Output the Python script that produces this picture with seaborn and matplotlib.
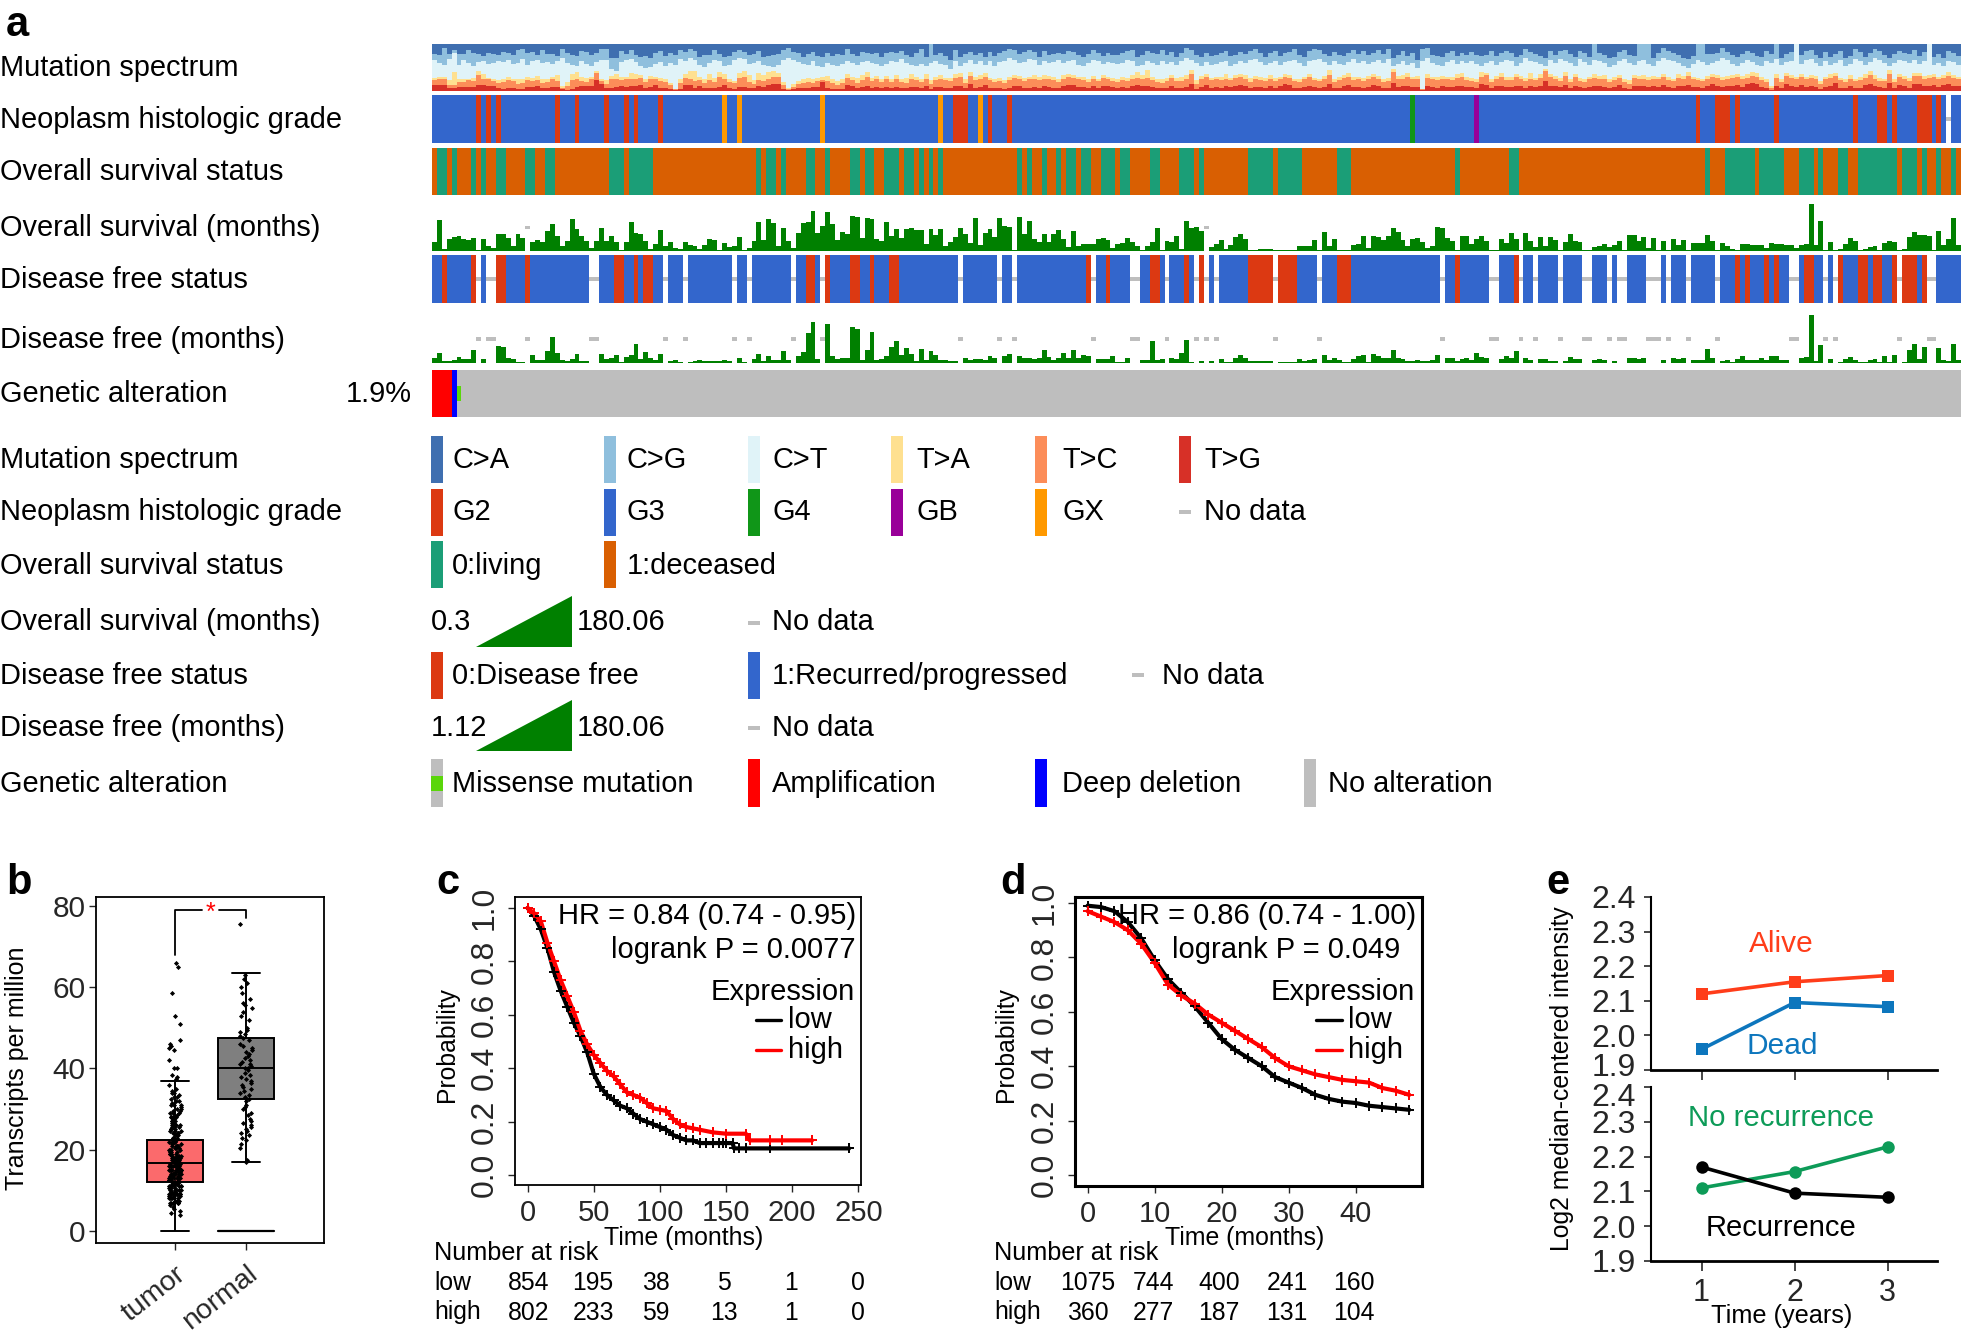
import numpy as np
import pandas as pd
import seaborn as sns
import matplotlib
matplotlib.use("Agg")
import matplotlib.pyplot as plt
from matplotlib.patches import Polygon, Rectangle
from matplotlib.transforms import ScaledTranslation

W, H = 1961, 1332

# ---- panel a: values per sample ----
spectrum_tg = [12,12,12,5,5,8,8,8,8,12, 12,10,10,5,4,5,6,4,4,7, 8,9,5,5,8,8,3,2,4,7, 10,9,9,22,14,5,6,8,9,8,
    10,10,12,6,8,12,5,5,3,1, 4,12,12,6,10,5,6,5,7,12, 5,4,8,8,5,6,9,8,12,14, 14,4,1,4,6,5,5,7,7,18,
    6,3,3,4,12,10,6,8,11,6, 8,5,8,5,7,6,6,7,7,5, 9,3,8,8,6,6,10,10,5,14, 6,8,12,6,5,6,4,6,9,9,
    6,5,8,6,9,8,6,5,10,12, 12,8,7,6,10,5,11,10,7,5, 8,6,9,12,10,9,8,6,5,5, 10,6,5,8,14,4,8,12,6,8,
    6,9,7,10,12,10,5,8,8,5, 10,6,9,14,12,6,5,8,11,7, 6,8,14,5,6,10,12,7,8,5, 8,12,9,5,6,16,7,9,10,8,
    8,1,10,8,6,9,8,8,9,10, 8,7,5,14,12,6,9,10,8,7, 11,9,6,9,7,10,20,11,9,7, 12,6,11,7,5,7,11,9,8,6,
    8,12,5,4,11,10,9,7,9,8, 12,8,6,11,9,12,7,7,5,10, 14,11,7,9,10,12,8,14,16,14, 7,6,2,10,6,14,10,8,13,8,
    11,8,4,8,11,16,6,5,9,6, 6,12,15,10,7,6,17,6,13,9, 6,14,15,10,11,12,8,12,14,10, 9]
spectrum_tc = [22,26,24,12,13,18,18,22,20,34, 26,24,20,16,18,22,20,14,16,22, 20,22,16,18,24,20,6,10,22,24, 20,18,24,38,20,14,24,25,22,24,
    26,26,28,18,26,24,20,18,12,3, 16,28,26,20,22,16,22,18,30,26, 18,16,28,30,18,14,22,20,26,30, 30,12,3,8,14,16,18,16,20,22,
    20,16,12,16,28,22,16,22,30,20, 24,18,24,18,24,18,16,24,22,18, 26,14,22,24,22,20,28,30,16,32, 22,24,30,22,18,20,16,22,28,24,
    20,24,26,22,26,24,22,18,26,30, 28,24,22,18,26,20,28,24,20,18, 22,20,26,28,24,28,22,18,16,20, 28,20,20,26,36,14,24,30,22,24,
    22,26,22,28,30,26,18,24,22,20, 26,20,24,30,28,20,18,24,30,22, 20,26,34,18,22,28,30,22,24,20, 24,30,24,18,20,40,24,26,30,24,
    24,3,28,24,22,26,24,22,28,30, 22,20,18,30,34,18,24,30,22,22, 30,26,20,26,22,28,42,30,26,20, 32,18,30,20,18,24,28,26,26,18,
    22,28,18,14,28,26,24,22,26,24, 30,22,20,28,26,32,24,22,20,26, 30,28,22,24,28,30,26,28,32,30, 22,18,6,28,18,32,28,24,30,24,
    28,26,14,24,28,32,22,18,26,20, 22,28,34,26,20,20,36,18,30,26, 20,32,32,26,28,30,24,28,32,28, 24]
spectrum_ta = [28,30,30,22,40,26,24,26,28,42, 36,28,26,22,26,30,26,24,26,30, 28,32,24,26,30,34,10,18,36,40, 30,28,30,42,26,22,32,36,30,30,
    38,36,34,26,32,30,28,26,16,4, 24,36,42,42,30,26,36,28,40,36, 24,20,38,42,34,22,38,34,40,42, 38,18,6,14,20,24,28,26,28,30,
    32,26,20,26,36,30,28,34,40,28, 32,26,32,26,34,26,28,36,30,26, 36,22,30,34,28,28,36,38,24,40, 30,34,38,28,26,28,22,30,34,32,
    28,30,34,30,34,32,30,26,34,36, 34,30,30,26,32,26,34,30,28,26, 30,28,34,40,34,44,30,26,24,28, 34,28,30,34,44,22,32,36,28,30,
    30,36,28,34,36,34,28,32,30,28, 34,28,30,36,34,26,26,30,36,28, 26,32,44,24,30,34,38,30,30,28, 32,36,32,26,28,46,32,34,38,30,
    32,4,36,30,30,32,30,30,36,38, 30,28,24,40,38,24,32,38,30,30, 36,32,28,38,28,36,46,36,32,28, 40,26,36,28,24,30,36,32,34,26,
    30,34,26,22,34,32,34,30,32,30, 36,30,26,36,32,40,30,28,26,32, 36,34,30,32,34,36,32,36,40,38, 30,26,10,36,24,38,34,30,36,30,
    34,32,20,30,36,38,28,24,34,26, 30,36,42,34,28,26,44,24,36,32, 28,38,38,32,34,36,30,34,40,34, 30]
spectrum_ct = [65,59,55,67,80,55,65,59,53,61, 63,57,59,63,61,65,57,59,67,55, 63,65,59,61,57,63,69,59,55,53, 63,57,53,61,65,65,47,43,61,65,
    67,61,53,49,51,57,61,53,59,55, 67,63,71,65,55,51,59,65,63,53, 55,65,69,67,57,59,63,55,53,51, 55,65,71,65,61,57,55,63,53,51,
    59,55,53,57,63,59,55,61,63,59, 57,53,57,63,61,67,59,55,53,57, 53,59,63,57,55,47,63,53,59,65, 57,63,55,63,53,61,63,69,65,59,
    61,67,65,55,63,59,61,65,59,63, 65,55,53,59,65,63,57,61,59,57, 59,65,63,53,55,63,59,55,63,57, 61,55,63,71,65,59,53,61,55,57,
    61,63,53,57,63,59,65,67,61,55, 59,63,55,61,63,65,59,53,63,65, 67,61,55,63,57,55,61,67,59,63, 57,61,65,59,67,53,57,63,55,59,
    49,63,71,59,55,53,61,65,57,63, 59,63,57,53,59,63,55,61,65,63, 53,59,69,63,61,57,53,65,59,67, 63,59,53,67,61,55,65,63,59,51,
    55,63,67,59,55,63,65,57,53,63, 69,65,63,59,53,49,57,65,61,55, 59,63,69,65,57,53,59,65,61,55, 53,63,59,67,55,61,63,99,57,65,
    67,59,53,63,55,59,65,53,57,67, 63,55,61,69,65,59,53,59,65,63, 59,65,57,63,99,55,59,53,63,61, 55]
spectrum_cg = [79,77,92,79,87,79,79,87,81,79, 75,81,79,77,83,81,77,87,89,81, 82,77,87,79,79,75,89,81,77,75, 85,83,77,81,89,89,69,71,85,79,
    87,77,73,75,69,81,85,75,81,77, 87,83,89,85,73,77,77,87,79,73, 75,83,87,83,77,79,85,73,75,77, 79,87,91,83,81,73,79,83,75,73,
    81,75,79,77,89,79,75,83,81,79, 81,73,81,83,81,85,77,73,81,89, 73,99,77,81,75,65,87,73,79,82, 77,81,73,83,75,81,85,89,87,79,
    83,87,82,73,85,77,79,81,79,85, 83,77,73,79,87,81,75,81,77,77, 81,85,87,73,77,85,81,79,87,77, 83,73,81,92,87,77,73,81,75,77,
    81,85,75,77,83,79,85,89,81,73, 81,85,75,81,83,89,77,73,85,89, 87,79,75,83,77,75,81,87,79,85, 77,81,87,79,89,71,77,85,75,81,
    65,89,92,77,75,73,81,85,75,81, 77,83,77,75,77,85,75,81,85,81, 73,77,89,83,79,75,71,85,77,85, 87,79,73,85,81,73,99,81,77,69,
    73,83,87,77,75,99,99,99,71,81, 92,85,81,77,69,67,75,99,99,79, 79,81,92,83,77,73,79,85,81,75, 73,85,79,99,71,79,83,99,77,85,
    87,77,71,83,73,79,85,71,75,89, 83,73,81,89,85,77,69,79,85,81, 79,87,75,83,99,73,79,71,85,81, 75]

grade_g2 = [9,11,13,25,29,35,39,41,46,106,107,108,113,117,257,261,262,263,265,273,289,294,295,297,302,303,304,306]
grade_gx = [59,62,79,103,111]
grade_g4 = [199]
grade_gb = [212]
grade_missing = [308]

os_living = [1,2,4,8,10,13,14,19,20,23,24,36,37,38,40,41,42,43,44,66,68,69,71,76,77,80,85,86,88,89,92,93,94,96,97,99,101,103,
    119,121,124,127,129,130,132,133,136,137,138,140,141,146,147,152,153,154,156,166,167,168,169,170,172,173,174,175,176,184,185,186,
    208,219,220,259,263,264,265,266,267,268,270,271,272,273,274,278,279,280,282,286,287,290,291,292,293,294,295,296,297,299,300,301,303,306,309]

os_months = [35,116,5,43,52,57,45,42,49,1, 46,17,9,65,63,49,19,64,47,None, 32,42,33,75,103,56,19,37,119,83,
    56,36,9,37,88,37,56,34,4,34, 111,69,63,38,8,24,80,17,32,11, 5,34,20,19,5,23,43,40,3,31,
    15,18,54,1,10,37,111,40,119,106, 19,86,36,11,68,106,110,153,66,93, 146,101,42,70,65,134,129,49,124,119,
    43,38,109,57,83,47,83,86,79,80, 27,82,59,81,17,33,54,87,65,28, 124,22,69,83,51,125,93,89,3,128,
    65,115,43,34,65,33,64,80,45,13, 77,19,26,26,26,46,50,40,11,24, 31,49,33,19,4,18,33,86,3,38,
    32,57,8,115,88,92,75,None,14,24, 40,8,22,52,63,46,4,4,6,6, 5,1,4,4,4,4,17,17,18,42,
    1,71,17,45,4,1,1,20,24,56, 11,55,52,40,57,88,70,40,18,43, 47,32,11,17,89,88,47,37,4,57,
    56,27,43,56,36,1,1,46,29,69, 43,1,66,36,15,52,17,51,42,1, 32,65,37,32,1,1,14,19,27,14,
    20,37,1,59,61,36,52,11,49,1, 38,1,43,20,42,1,29,31,31,61, 36,1,29,18,8,1,27,27,22,22,
    22,11,29,27,27,23,23,11,20,24, 180,20,115,1,34,1,6,27,49,37, 1,8,14,17,3,31,38,32,1,6,
    51,71,61,59,56,3,77,20,43,125, 20]

dfs_recurrence_free = [2,8,13,14,19,37,38,41,43,44,76,77,80,85,86,89,93,94,133,137,146,147,153,156,166,167,168,169,170,172,173,174,175,
    184,185,186,208,220,265,267,271,273,279,280,286,290,291,293,294,297,299,300,301,303]
dfs_missing = [9,11,12,32,33,47,51,61,64,73,79,107,115,118,134,142,143,149,155,157,159,171,180,205,215,216,221,224,229,234,235,239,241,242,
    247,248,249,251,255,261,276,277,283,285,298,304,305]

dfs_months = [18,38,6,6,9,22,15,13,49,None, 13,None,None,65,61,18,14,4,4,None, 29,9,9,43,97,38,9,5,13,32,
    8,6,None,None,33,15,17,28,4,20, 31,70,13,40,18,9,32,None,8,10, 2,None,4,6,9,5,8,8,6,11,
    8,None,19,1,None,13,32,8,26,9, 9,43,9,None,26,40,111,153,15,None, 146,24,15,18,18,134,128,9,50,117,
    9,15,27,59,84,28,55,33,8,51, 9,43,28,9,11,6,6,None,19,11, 15,13,11,26,18,None,24,32,None,26,
    18,18,14,18,50,22,11,19,37,18, 47,19,28,26,None,14,15,15,24,4, 4,18,None,None,9,11,84,11,13,None,
    19,15,37,86,1,None,6,None,8,None, 13,4,4,19,31,18,5,5,8,8, 8,None,4,4,4,4,13,6,9,15,
    None,31,10,17,9,2,1,15,24,28, 4,33,24,17,19,50,18,13,5,5, 11,6,6,9,31,None,19,19,6,13,
    18,9,37,22,19,None,None,15,24,19, 43,None,19,9,None,14,13,6,6,None, 8,22,13,13,None,None,11,15,9,None,
    8,None,None,18,18,13,18,None,None,None, 9,None,17,15,18,None,11,10,9,51, 19,None,6,10,1,14,27,11,9,11,
    19,10,24,24,11,11,None,None,18,23, 180,5,69,None,14,None,1,15,23,11, 2,4,9,14,1,26,1,29,None,2,
    49,70,13,59,None,None,54,9,8,72, 9]

alt_amplification = [0,1,2,3]
alt_deletion = [4]
alt_missense = [5]

# ---- panel b ----
groups = ["tumor", "normal"]
tumor_box = [0, 12, 16.7, 22.5, 37]
normal_box = [17, 32.5, 40, 47.5, 63.5]
tumor_tpm = [66,65,58.5,53,51,47,46,45.5,45,44.5,42,40,40,38.5,38,37.5,36,35,34.5,34,34,33,33,32.5,32,32,31.5,31,31,30.5,30,30,29.5,29,29,29,
    28.5,28,28,28,27.5,27,27,27,26.5,26,26,26,25.5,25.5,25,25,25,24.5,24.5,24,24,24,23.5,23.5,23,23,23,22.5,22.5,22,22,22,21.5,21.5,21,21,21,
    20.5,20.5,20,20,20,19.5,19.5,19,19,19,18.5,18.5,18,18,18,18,17.5,17.5,17,17,17,17,16.5,16.5,16,16,16,16,15.5,15.5,15,15,15,15,14.5,14.5,
    14,14,14,14,13.5,13.5,13,13,13,13,12.5,12.5,12,12,12,11.5,11.5,11,11,11,10.5,10.5,10,10,10,9.5,9.5,9,9,9,8.5,8.5,8,8,8,7.5,7.5,7,7,7,6.5,6,5.5,5,4.5,4,
    33.5,31,29.5,28,26.5,25.5,24.5,23.5,22,21,20.5,20,19,19,18.5,18,18,17.5,17,17,16.5,16,16,15.5,15,15,14.5,14,14,13.5,13,13,12.5,12,12,11.5,11,11,
    10.5,10,10,9.5,9,9,8.5,8,8,7.5,7,7,24,22.5,21,19.5,18,16.5,15,13.5,12,10.5,9,18.5,17.5,16,15,14,13,12,11,10,9,8]
normal_tpm = [75.5,63,62,61,60,58.5,57,56,55.5,55,54,53,52,50,49.5,49,48.5,48,47.5,47,46,45.5,45,44.5,44,43.5,43,42.5,42,41.5,41,41,40.5,40,40,
    39.5,39,38.5,38,37.5,37,36.5,36,35.5,35,34.5,34,33.5,33,32.5,32,31,30.5,30,29,28.5,27.5,27,26.5,26,25.5,25,24.5,24,23.5,23,22.5,21.5,20.5,17.5,17]

# ---- panel c ----
c_low_t = [0,5,10,15,20,25,30,35,40,45,50,55,60,65,70,75,80,85,90,95,100,105,110,115,120,125,130,150,155,156,243]
c_low_p = [1.0,.97,.92,.85,.76,.69,.63,.57,.52,.46,.38,.33,.30,.28,.26,.25,.23,.21,.20,.19,.18,.17,.15,.14,.13,.13,.12,.12,.12,.10,.10]
c_high_t = [0,5,10,15,20,25,30,35,40,45,50,55,60,65,70,75,80,85,90,95,100,105,110,115,120,125,130,140,150,165,168,215]
c_high_p = [1.0,.98,.95,.87,.80,.73,.67,.61,.54,.49,.45,.42,.39,.37,.34,.31,.30,.29,.27,.25,.245,.24,.21,.19,.18,.175,.17,.16,.155,.155,.13,.13]
c_low_cens_t = [135,140,145,148,160,165,183,243]
c_low_cens_p = [.12,.12,.12,.12,.10,.10,.10,.10]
c_high_cens_t = [105,110,125,130,140,150,165,183,192,215]
c_high_cens_p = [.24,.21,.175,.17,.16,.155,.155,.13,.13,.13]
c_risk_low = ["854", "195", "38", "5", "1", "0"]
c_risk_high = ["802", "233", "59", "13", "1", "0"]

# ---- panel d ----
d_t = [0,2,4,6,8,10,12,14,16,18,20,22,24,26,28,30,32,34,36,38,40,42,44,46,48]
d_low_p = [.99,.985,.97,.93,.87,.79,.72,.67,.62,.56,.50,.46,.43,.40,.36,.34,.32,.295,.28,.27,.265,.255,.25,.245,.24]
d_high_p = [.97,.95,.93,.90,.85,.78,.70,.66,.63,.59,.56,.53,.50,.47,.43,.40,.385,.37,.36,.35,.345,.34,.32,.31,.295]
d_risk_low = ["1075", "744", "400", "241", "160"]
d_risk_high = ["360", "277", "187", "131", "104"]

# ---- panel e ----
years = [1, 2, 3]
alive = [2.12, 2.155, 2.173]
dead = [1.96, 2.095, 2.083]
no_recurrence = [2.11, 2.157, 2.228]
recurrence = [2.17, 2.095, 2.083]

# ---- colours ----
GREEN = "#008000"
GREY = "#bebebe"
BLUE = "#3366cc"
RED = "#dc3912"
spectrum_colors = {"C>A": "#3f6fb0", "C>G": "#8fbfdd", "C>T": "#e0f3f8", "T>A": "#fee090", "T>C": "#fc8d59", "T>G": "#d73027"}

sns.set_style("white")
plt.rcParams["font.family"] = ["Liberation Sans", "DejaVu Sans"]
plt.rcParams["axes.edgecolor"] = "black"

fig = plt.figure(figsize=(W / 100, H / 100), dpi=100)


def px_axes(left, top, right, bottom):
    return fig.add_axes([left / W, 1 - bottom / H, (right - left) / W, (bottom - top) / H])


def track_axes(top, bottom):
    ax = px_axes(432, top, W, bottom)
    ax.axis("off")
    return ax


def draw_bars(ax, values, color):
    xs = np.arange(len(values))
    sns.barplot(x=xs, y=values, color=color, width=1, native_scale=True, saturation=1,
                linewidth=0, errorbar=None, orient="x", ax=ax)


def draw_categories(ax, labels, palette):
    xs = np.arange(len(labels))
    sns.barplot(x=xs, y=np.ones(len(labels)), hue=labels, palette=palette, dodge=False, width=1,
                native_scale=True, saturation=1, linewidth=0, errorbar=None, orient="x", legend=False, ax=ax)
    ax.set_ylim(0, 1)
    ax.set_xlim(-0.5, 310.5)


N = 311

# spectrum, painted from the top band down
ax = track_axes(44, 90.7)
draw_bars(ax, [100] * N, spectrum_colors["C>A"])
draw_bars(ax, spectrum_cg, spectrum_colors["C>G"])
draw_bars(ax, spectrum_ct, spectrum_colors["C>T"])
draw_bars(ax, spectrum_ta, spectrum_colors["T>A"])
draw_bars(ax, spectrum_tc, spectrum_colors["T>C"])
draw_bars(ax, spectrum_tg, spectrum_colors["T>G"])
ax.set_ylim(0, 100)
ax.set_xlim(-0.5, 310.5)

# grade
grade = ["G3"] * N
for i in grade_g2:
    grade[i] = "G2"
for i in grade_gx:
    grade[i] = "GX"
for i in grade_g4:
    grade[i] = "G4"
for i in grade_gb:
    grade[i] = "GB"
for i in grade_missing:
    grade[i] = "none"
ax = track_axes(95.3, 142.7)
draw_categories(ax, grade, {"G2": RED, "G3": BLUE, "G4": "#109618", "GB": "#990099", "GX": "#ff9900", "none": "white"})
ax.bar(grade_missing, 0.09, bottom=0.455, width=1, color=GREY, linewidth=0)

# overall survival status
status = ["deceased"] * N
for i in os_living:
    status[i] = "living"
ax = track_axes(147.7, 194.7)
draw_categories(ax, status, {"deceased": "#d95f02", "living": "#1b9e77"})


def month_track(top, bottom, values):
    ax = track_axes(top, bottom)
    series = pd.Series(values, dtype=float)
    draw_bars(ax, series.fillna(0).values, GREEN)
    ax.bar(np.flatnonzero(series.isna().values), 15, bottom=81, width=1, color=GREY, linewidth=0)
    ax.set_ylim(0, 180)
    ax.set_xlim(-0.5, 310.5)


month_track(203.5, 250.7, os_months)

# disease free status
dfs = ["recurred"] * N
for i in dfs_recurrence_free:
    dfs[i] = "free"
for i in dfs_missing:
    dfs[i] = "none"
ax = track_axes(255.3, 302.7)
draw_categories(ax, dfs, {"recurred": BLUE, "free": RED, "none": "white"})
ax.bar(dfs_missing, 0.09, bottom=0.455, width=1, color=GREY, linewidth=0)

month_track(315.3, 362.7, dfs_months)

# genetic alteration
alteration = ["none"] * N
for i in alt_amplification:
    alteration[i] = "amp"
for i in alt_deletion:
    alteration[i] = "del"
ax = track_axes(370, 417)
draw_categories(ax, alteration, {"none": GREY, "amp": "#ff0000", "del": "#0000ff"})
ax.bar(alt_missense, 1 / 3, bottom=1 / 3, width=1, color="#5ad60a", linewidth=0)

# overlay in pixel coordinates for labels and legend
ov = fig.add_axes([0, 0, 1, 1], zorder=10)
ov.set_xlim(0, W)
ov.set_ylim(H, 0)
ov.axis("off")
ov.patch.set_alpha(0)


def label(x, y, s, size=20.9, ha="left", color="black", **kw):
    ov.text(x, y + 2.5, s, fontsize=size, ha=ha, va="center", color=color, **kw)


def swatch(x, top, bottom, color, width=12):
    ov.add_patch(Rectangle((x, top), width, bottom - top, facecolor=color, edgecolor="none"))


left_labels = ["Mutation spectrum", "Neoplasm histologic grade", "Overall survival status", "Overall survival (months)",
               "Disease free status", "Disease free (months)", "Genetic alteration"]
for y, s in zip([65, 118, 170, 225, 278, 338, 391], left_labels):
    label(0, y, s)
label(412, 391, "1.9%", ha="right")
for y, s in zip([458, 510, 563, 620, 673, 725, 782], left_labels):
    label(0, y, s)

for s, x, tx in zip(spectrum_colors, [431, 604, 748, 891, 1035, 1179], [452, 627, 772, 916, 1062, 1204]):
    swatch(x, 436, 483, spectrum_colors[s])
    label(tx, 458, s)

grade_legend = [("G2", RED, 431, 452), ("G3", BLUE, 604, 627), ("G4", "#109618", 748, 772), ("GB", "#990099", 891, 916), ("GX", "#ff9900", 1035, 1062)]
for s, c, x, tx in grade_legend:
    swatch(x, 489, 536, c)
    label(tx, 510, s)
swatch(1179, 510, 514, GREY)
label(1204, 510, "No data")

swatch(431, 541, 588, "#1b9e77")
label(452, 563, "0:living")
swatch(604, 541, 588, "#d95f02")
label(627, 563, "1:deceased")

for top, bottom, low_s, low_y in [(596, 647, "0.3", 620), (700, 751, "1.12", 725)]:
    ov.add_patch(Polygon([(476, bottom), (572, bottom), (572, top)], facecolor=GREEN, edgecolor="none"))
    label(431, low_y, low_s)
    label(577, low_y, "180.06")
    swatch(748, low_y + 1, low_y + 5, GREY)
    label(772, low_y, "No data")

swatch(431, 652, 699, RED)
label(452, 673, "0:Disease free")
swatch(748, 652, 699, BLUE)
label(772, 673, "1:Recurred/progressed")
swatch(1132, 673, 677, GREY)
label(1162, 673, "No data")

swatch(431, 759, 807, GREY)
swatch(431, 776, 791, "#5ad60a")
label(452, 782, "Missense mutation")
swatch(748, 759, 807, "#ff0000")
label(772, 782, "Amplification")
swatch(1035, 759, 807, "#0000ff")
label(1062, 782, "Deep deletion")
swatch(1304, 759, 807, GREY)
label(1328, 782, "No alteration")

for x, y, s in [(6, 22, "a"), (6, 880, "b"), (436, 880, "c"), (1000, 880, "d"), (1546, 880, "e")]:
    label(x, y, s, size=30, fontweight="bold")

# ---- panel b ----
ax = px_axes(96.4, 897, 324, 1243)
box_df = pd.DataFrame({"group": ["tumor"] * 5 + ["normal"] * 5, "tpm": tumor_box + normal_box})
sns.boxplot(data=box_df, x="group", y="tpm", hue="group", order=groups, palette={"tumor": "#fb6a6c", "normal": "#7f7f7f"},
            whis=(0, 100), width=0.8, showfliers=False, saturation=1, linecolor="black", linewidth=1.4, dodge=False, legend=False, ax=ax)
strip_df = pd.DataFrame({"group": ["tumor"] * len(tumor_tpm) + ["normal"] * len(normal_tpm), "tpm": tumor_tpm + normal_tpm})
np.random.seed(3)
sns.stripplot(data=strip_df, x="group", y="tpm", order=groups, color="black", size=2.6, jitter=0.09, marker="D", ax=ax)
ax.plot([0.6, 1.4], [0, 0], color="black", lw=1.6)
ax.plot([0, 0, 0.38], [68, 79, 79], color="black", lw=1.3)
ax.plot([0.62, 1, 1], [79, 79, 77], color="black", lw=1.3)
ax.text(0.5, 78.2, "*", color="red", fontsize=18, ha="center", va="center")
ax.set_xlim(-1.107, 2.10)
ax.set_ylim(-2.96, 82.2)
ax.set_xlabel("")
ax.set_ylabel("")
ax.set_yticks([0, 20, 40, 60, 80])
ax.set_xticks([0, 1], groups, rotation=38, ha="right", rotation_mode="anchor")
ax.tick_params(axis="y", labelsize=21.5, length=5, width=1, pad=3, left=True)
ax.tick_params(axis="x", labelsize=20.5, length=5, width=1, pad=8, bottom=True)
for s in ax.spines.values():
    s.set_linewidth(1.3)
label(17, 1066, "Transcripts per million", size=18, ha="center", rotation=90)


def km_panel(box, xlim, ylim, xticks, low_t, low_p, high_t, high_p, low_c, high_c, spine_w):
    ax = px_axes(*box)
    sns.lineplot(x=low_t, y=low_p, color="black", linewidth=3, estimator=None, sort=False, ax=ax)
    sns.lineplot(x=high_t, y=high_p, color="#ff0000", linewidth=3, estimator=None, sort=False, ax=ax)
    sns.scatterplot(x=low_c[0], y=low_c[1], color="black", marker="+", s=55, linewidth=1.4, ax=ax, zorder=3)
    sns.scatterplot(x=high_c[0], y=high_c[1], color="#ff0000", marker="+", s=55, linewidth=1.4, ax=ax, zorder=3)
    ax.set_xlim(*xlim)
    ax.set_ylim(*ylim)
    ax.set_xticks(xticks)
    ax.set_yticks([0, .2, .4, .6, .8, 1.0], ["0.0", "0.2", "0.4", "0.6", "0.8", "1.0"], rotation=90, va="center")
    ax.tick_params(axis="x", labelsize=21, length=5, width=1, pad=5, bottom=True)
    ax.tick_params(axis="y", labelsize=23, length=5, width=1, pad=6, left=True)
    for s in ax.spines.values():
        s.set_linewidth(spine_w)
    return ax


def km_text(hr, p, hr_x, p_x, expr_x, low_x, line_x, prob_x, time_x, risk_x, columns, risk_low, risk_high):
    label(hr_x, 914, hr, size=21, ha="right")
    label(p_x, 947, p, size=21, ha="right")
    label(expr_x, 990, "Expression", size=21, ha="right")
    label(low_x, 1017, "low", size=21)
    label(low_x, 1047, "high", size=21)
    ov.plot(line_x, [1020, 1020], color="black", lw=2.4)
    ov.plot(line_x, [1050, 1050], color="#ff0000", lw=2.4)
    label(prob_x, 1042, "Probability", size=17.8, ha="center", rotation=90)
    label(time_x, 1236, "Time (months)", size=17.9, ha="center")
    label(risk_x, 1251, "Number at risk", size=18.2)
    label(risk_x, 1281, "low", size=17.8)
    label(risk_x, 1310, "high", size=17.8)
    for x, lo, hi in zip(columns, risk_low, risk_high):
        label(x, 1281, lo, size=17.8, ha="center")
        label(x, 1310, hi, size=17.8, ha="center")


# ---- panel c ----
km_panel((515, 897, 861, 1185), (-9.5, 252), (-0.037, 1.041), [0, 50, 100, 150, 200, 250],
         c_low_t, c_low_p, c_high_t, c_high_p, (c_low_t + c_low_cens_t, c_low_p + c_low_cens_p),
         (c_high_t + c_high_cens_t, c_high_p + c_high_cens_p), 1.3)
km_text("HR = 0.84 (0.74 - 0.95)", "logrank P = 0.0077", 856, 856, 855, 788, [756, 781], 447, 684, 434,
        [529, 593, 656, 724, 791, 858], c_risk_low, c_risk_high)

# ---- panel d ----
km_panel((1075, 897, 1422, 1186), (-1.88, 49.9), (-0.04, 1.022), [0, 10, 20, 30, 40],
         d_t, d_low_p, d_t, d_high_p, (d_t, d_low_p), (d_t, d_high_p), 2.2)
km_text("HR = 0.86 (0.74 - 1.00)", "logrank P = 0.049", 1416, 1400, 1415, 1348, [1316, 1342], 1006, 1245, 994,
        [1088, 1153, 1219, 1287, 1354], d_risk_low, d_risk_high)


# ---- panel e ----
def line_panel(top, bottom, series, marker, show_labels, nudge_index, nudge_px):
    ax = px_axes(1651, top, 1937, bottom)
    for values, color in series:
        sns.lineplot(x=years, y=values, color=color, linewidth=2.6, marker=marker, markersize=9,
                     markeredgewidth=0, errorbar=None, ax=ax)
    ax.set_xlim(0.457, 3.53)
    ax.set_ylim(1.9, 2.4)
    ax.set_yticks([1.9, 2.0, 2.1, 2.2, 2.3, 2.4], ["1.9", "2.0", "2.1", "2.2", "2.3", "2.4"])
    ax.set_xticks(years, [str(y) for y in years] if show_labels else ["", "", ""])
    ax.tick_params(axis="x", labelsize=22, length=7, width=1.2, pad=5, bottom=True)
    ax.tick_params(axis="y", labelsize=23, length=5, width=1.2, pad=6, left=True)
    # the end labels of the two stacked axes sit a little apart from their ticks
    tick_label = ax.get_yticklabels()[nudge_index]
    tick_label.set_transform(tick_label.get_transform() + ScaledTranslation(0, nudge_px / 100, fig.dpi_scale_trans))
    sns.despine(ax=ax)
    ax.spines["left"].set_linewidth(1.5)
    ax.spines["bottom"].set_linewidth(2)
    ax.patch.set_alpha(0)
    return ax


line_panel(897, 1070, [(alive, "#ff3d1a"), (dead, "#0d76bd")], "s", False, 0, 5)
line_panel(1087, 1261, [(no_recurrence, "#0d9b58"), (recurrence, "black")], "o", True, 5, -8)
label(1781, 941, "Alive", size=21.5, ha="center", color="#ff3d1a")
label(1782, 1044, "Dead", size=21.5, ha="center", color="#0d76bd")
label(1781, 1115, "No recurrence", size=21.2, ha="center", color="#0d9b58")
label(1781, 1226, "Recurrence", size=21, ha="center")
label(1562, 1076, "Log2 median-centered intensity", size=17.8, ha="center", rotation=90)
label(1782, 1314, "Time (years)", size=18.2, ha="center")

fig.savefig("out.png", dpi=100)
